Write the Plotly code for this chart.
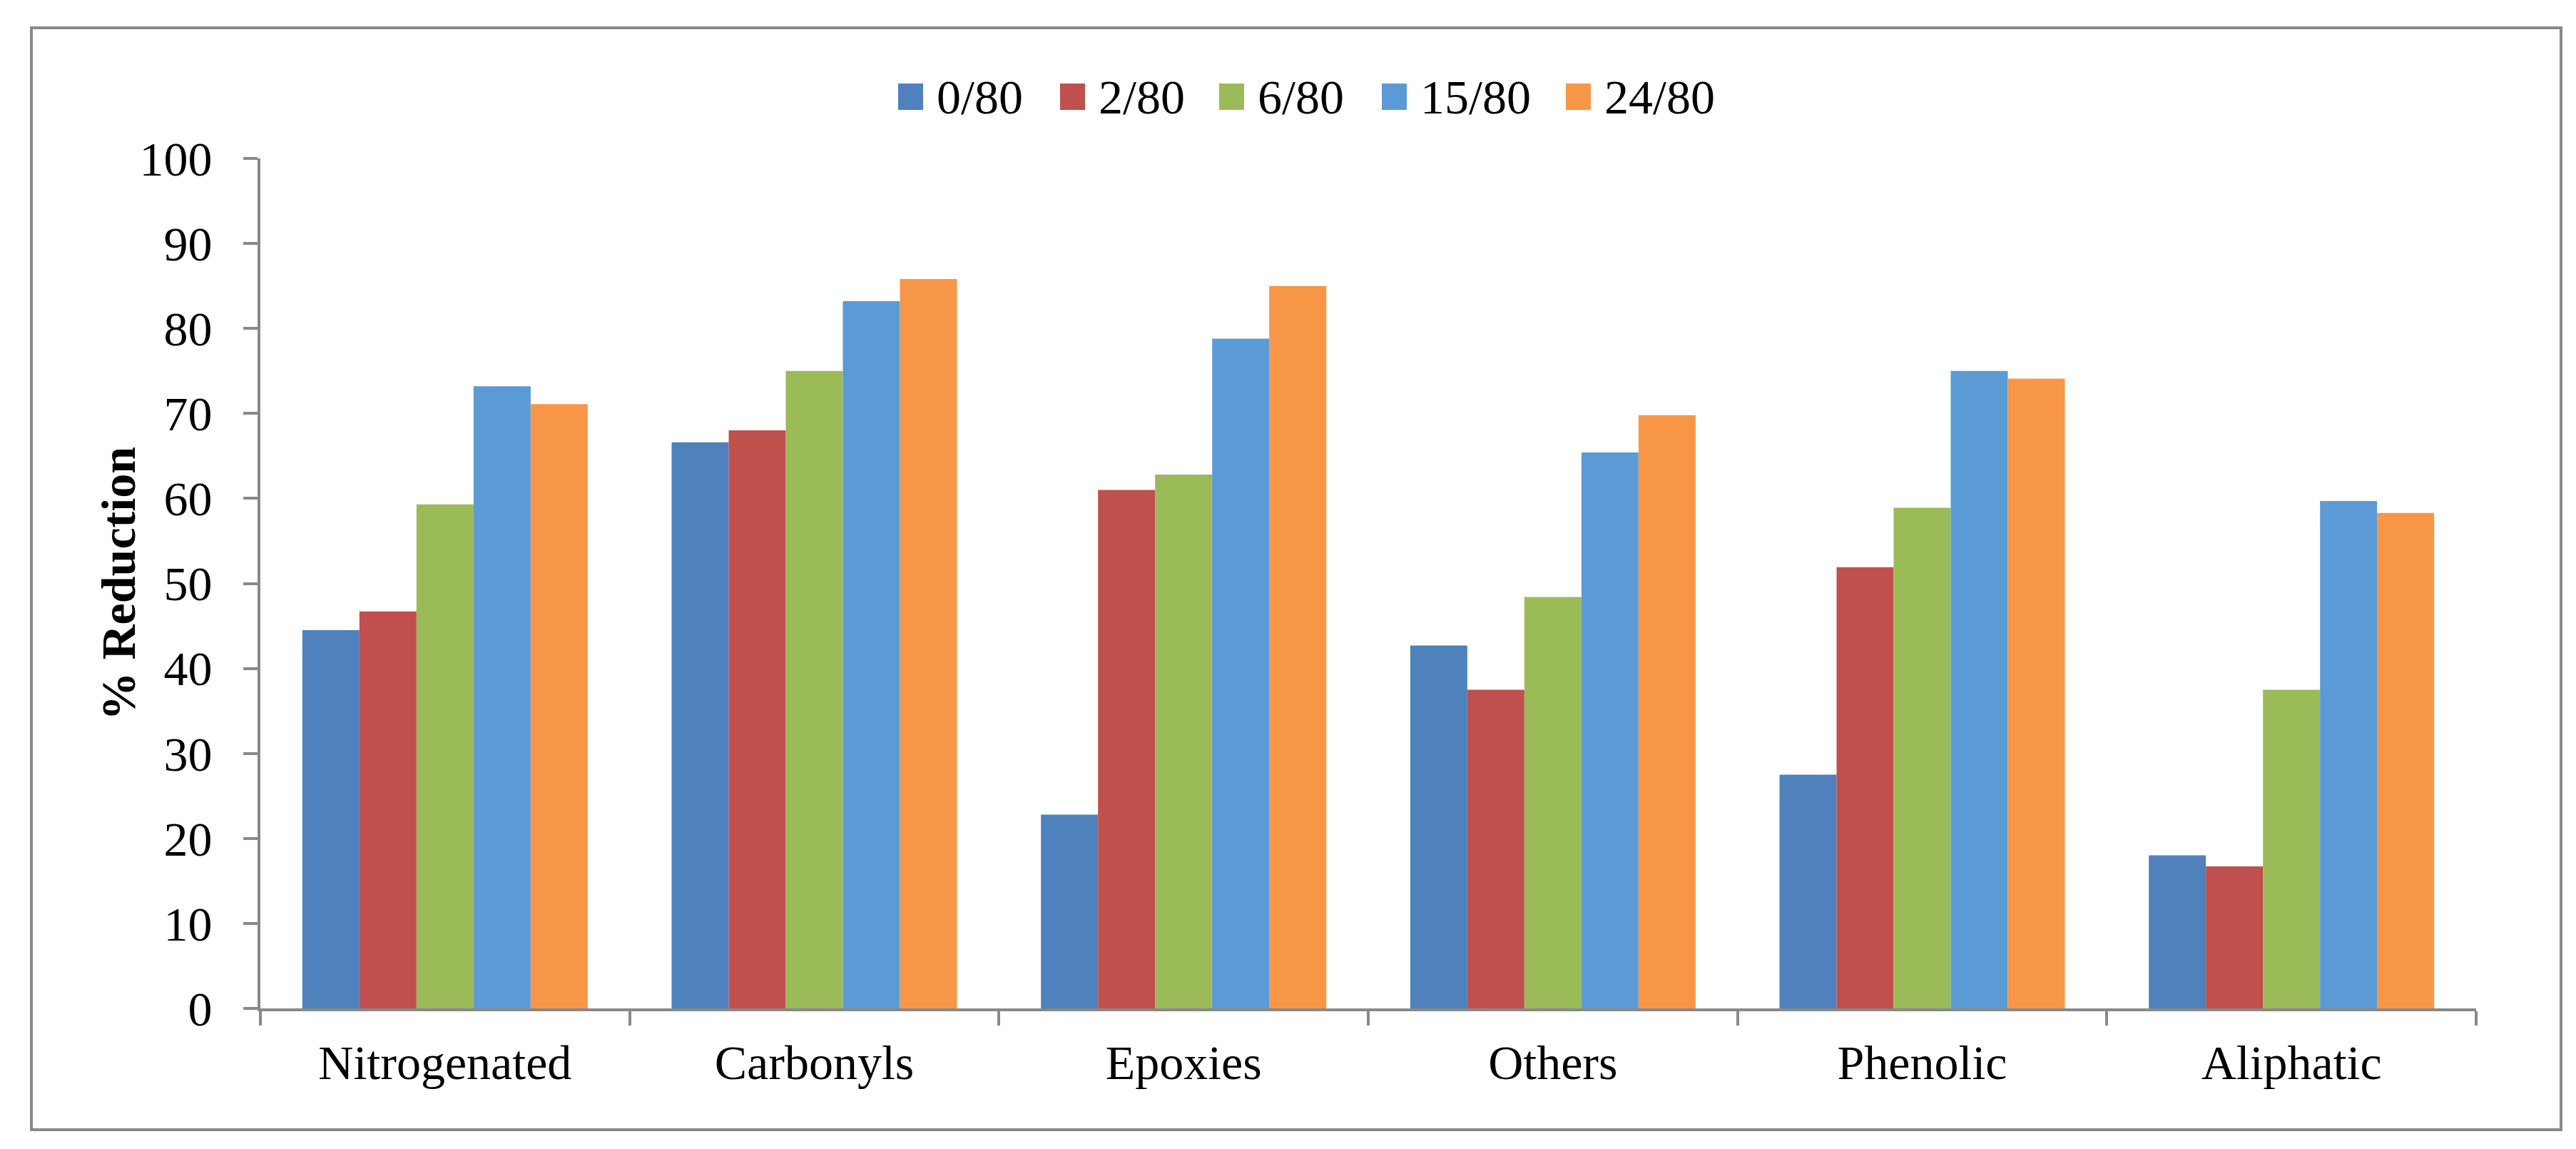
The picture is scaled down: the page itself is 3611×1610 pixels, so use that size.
import plotly.graph_objects as go

categories = ["Nitrogenated", "Carbonyls", "Epoxies", "Others", "Phenolic", "Aliphatic"]
series_names = ["0/80", "2/80", "6/80", "15/80", "24/80"]
s_0_80 = [44.5, 66.6, 22.8, 42.7, 27.5, 18.0]
s_2_80 = [46.7, 68.0, 61.0, 37.5, 51.9, 16.7]
s_6_80 = [59.3, 75.0, 62.8, 48.4, 58.9, 37.5]
s_15_80 = [73.2, 83.2, 78.8, 65.4, 75.0, 59.7]
s_24_80 = [71.1, 85.8, 85.0, 69.8, 74.1, 58.3]
y_ticks = [0, 10, 20, 30, 40, 50, 60, 70, 80, 90, 100]
y_title = "% Reduction"

series_values = [s_0_80, s_2_80, s_6_80, s_15_80, s_24_80]
colors = ["#4F81BD", "#C0504D", "#9BBB59", "#5B9BD5", "#F79646"]

W, H = 3611, 1610
L, R, T, B = 357, 3463, 214, 1405
FONT = "Liberation Serif, Times New Roman, serif"
GRAY = "#898989"

def px_x(px):
    return (px - L) / (R - L)

def px_y(py):
    return (B - py) / (B - T)

fig = go.Figure()
for name, vals, col in zip(series_names, series_values, colors):
    fig.add_trace(go.Bar(x=categories, y=vals, name=name, marker=dict(color=col, line=dict(width=0)),
                         showlegend=False))

shapes = []
annotations = []
# outer border
shapes.append(dict(type="rect", xref="paper", yref="paper",
                   x0=px_x(36), x1=px_x(3582), y0=px_y(1575), y1=px_y(31),
                   line=dict(color=GRAY, width=4), fillcolor="rgba(0,0,0,0)", layer="below"))

# manual legend
leg_marker_left = [1251, 1478, 1701, 1929, 2187]
for name, col, lx in zip(series_names, colors, leg_marker_left):
    shapes.append(dict(type="rect", xref="paper", yref="paper",
                       x0=px_x(lx), x1=px_x(lx + 35), y0=px_y(146), y1=px_y(109),
                       line=dict(width=0), fillcolor=col))
    annotations.append(dict(xref="paper", yref="paper", x=px_x(lx + 52), y=px_y(128),
                            xanchor="left", yanchor="middle", text=name, showarrow=False,
                            font=dict(family=FONT, size=68, color="black")))

# y-axis title
annotations.append(dict(xref="paper", yref="paper", x=px_x(157), y=0.5,
                        xanchor="center", yanchor="middle", textangle=-90,
                        text="<b>" + y_title + "</b>", showarrow=False,
                        font=dict(family=FONT, size=68, color="black")))

fig.update_layout(
    width=W, height=H,
    margin=dict(l=L, r=W - R, t=T, b=H - B, pad=0),
    paper_bgcolor="white", plot_bgcolor="white",
    barmode="group", bargap=0.2273, bargroupgap=0,
    font=dict(family=FONT, size=68, color="black"),
    shapes=shapes, annotations=annotations,
    showlegend=False,
)
fig.update_xaxes(
    automargin=False,
    showline=True, linecolor=GRAY, linewidth=4,
    ticks="outside", tickson="boundaries", ticklen=20, tickwidth=4, tickcolor=GRAY,
    showgrid=False, tickfont=dict(family=FONT, size=68, color="black"),
    ticklabelstandoff=13,
)
fig.update_yaxes(
    automargin=False,
    range=[0, 100], tickvals=y_ticks, ticktext=[str(v) for v in y_ticks],
    showline=True, linecolor=GRAY, linewidth=4,
    ticks="outside", ticklen=20, tickwidth=4, tickcolor=GRAY,
    showgrid=False, zeroline=False, tickfont=dict(family=FONT, size=68, color="black"),
    ticklabelstandoff=30,
)

fig.write_html("out.html")
